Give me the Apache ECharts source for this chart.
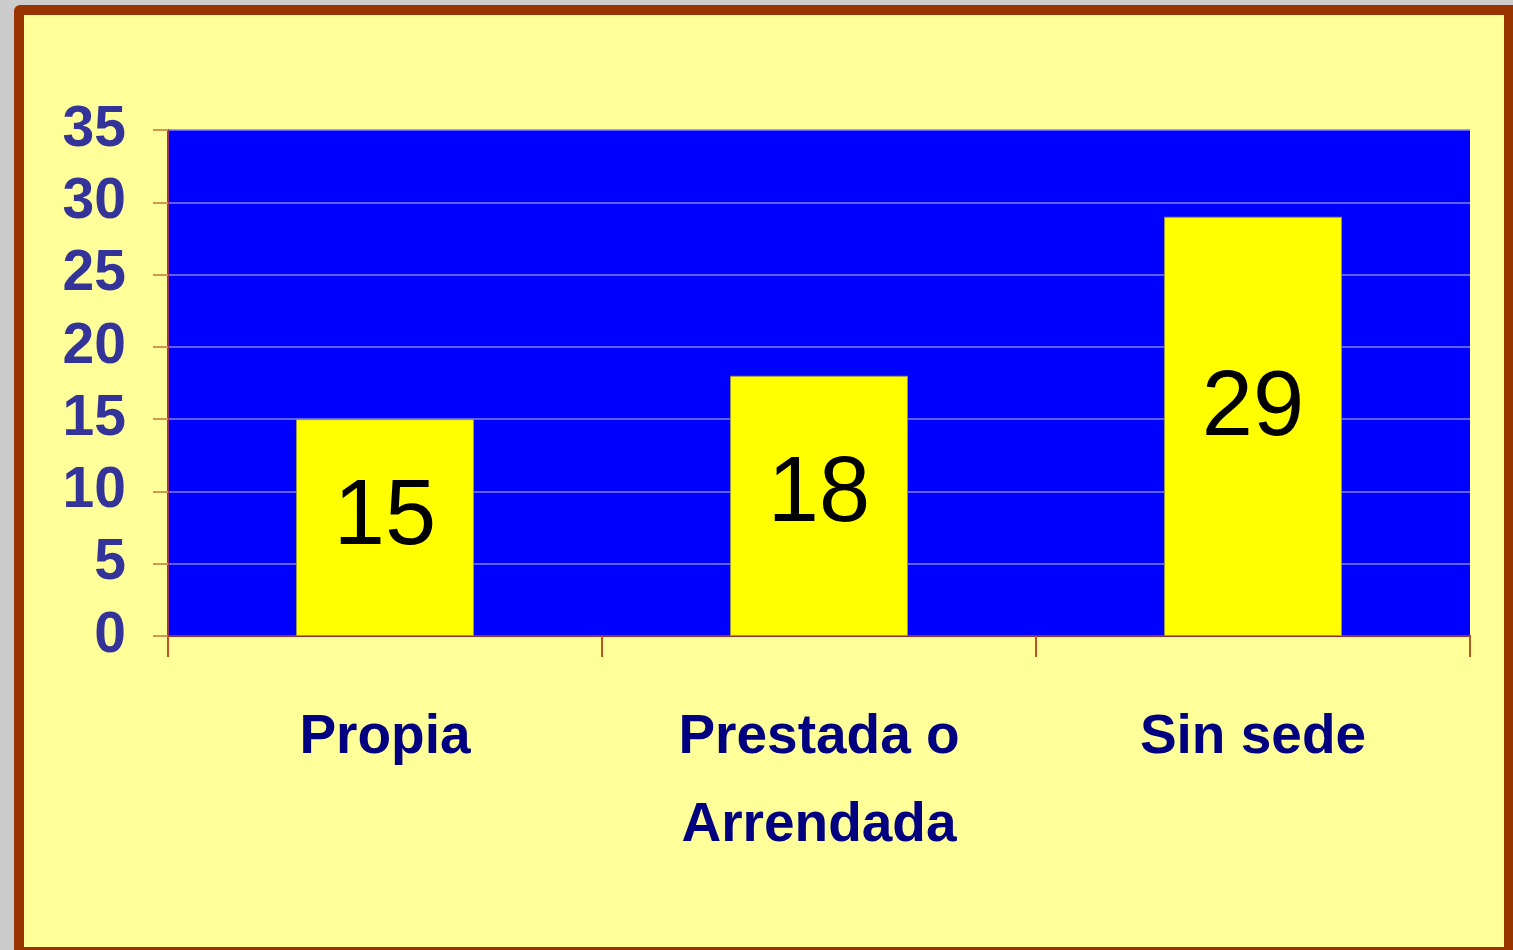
<!DOCTYPE html>
<html>
<head>
<meta charset="utf-8">
<script src="https://cdn.jsdelivr.net/npm/echarts@6/dist/echarts.min.js"></script>
<style>
  html, body { margin: 0; padding: 0; width: 1513px; height: 950px; overflow: hidden; background: #cccccc; }
  #frame { position: absolute; left: 14px; top: 5px; width: 1480px; height: 932px; border: 10px solid #993300; border-top-left-radius: 6px; background: #ffff99; }
  #chart { position: absolute; left: 0; top: 0; width: 1513px; height: 950px; }
</style>
</head>
<body>
<div id="frame"></div>
<div id="chart"></div>
<script>
const categories = ['Propia', 'Prestada o\nArrendada', 'Sin sede'];
const values = [15, 18, 29];
const yTicks = [0, 5, 10, 15, 20, 25, 30, 35];

const narrow = "'Liberation Sans Narrow', 'Arial Narrow', 'Liberation Sans', Arial, sans-serif";

const chart = echarts.init(document.getElementById('chart'), null, { renderer: 'canvas' });
chart.setOption({
  backgroundColor: 'transparent',
  animation: false,
  grid: {
    left: 168, top: 130, right: 43, bottom: 314,
    show: true, backgroundColor: '#0000ff', borderWidth: 0
  },
  xAxis: {
    type: 'category',
    data: categories,
    axisLine: { show: true, lineStyle: { color: '#993333', width: 2 } },
    axisTick: { show: true, length: 21, lineStyle: { color: '#bb5522', width: 2 } },
    axisLabel: {
      margin: 58,
      color: '#000080',
      fontFamily: narrow,
      fontWeight: 'bold',
      fontSize: 55,
      lineHeight: 88
    }
  },
  yAxis: {
    type: 'value',
    min: yTicks[0],
    max: yTicks[yTicks.length - 1],
    interval: 5,
    axisLine: { show: true, lineStyle: { color: '#993366', width: 2 } },
    axisTick: { show: true, length: 15, lineStyle: { color: '#cc9955', width: 2 } },
    axisLabel: {
      margin: 42,
      color: '#333399',
      fontFamily: narrow,
      fontWeight: 'bold',
      fontSize: 57
    },
    splitLine: { show: true, lineStyle: { color: '#8080ff', width: 1.5 } }
  },
  series: [{
    type: 'bar',
    data: values,
    barWidth: '41%',
    itemStyle: { color: '#ffff00', borderColor: '#999944', borderWidth: 1 },
    label: {
      show: true,
      position: ['50%', '46%'],
      align: 'center',
      verticalAlign: 'middle',
      color: '#000000',
      fontFamily: narrow,
      fontSize: 92
    }
  }]
});
</script>
</body>
</html>
